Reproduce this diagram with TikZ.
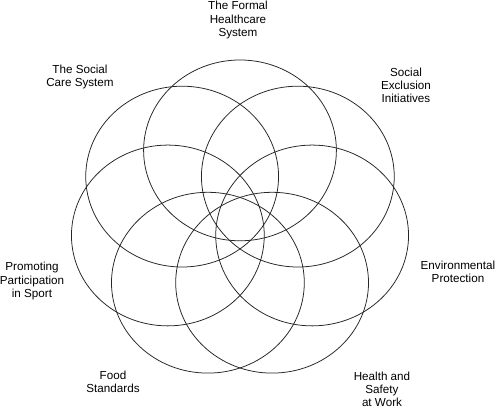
\documentclass[tikz,border=0pt]{standalone}
\usepackage{fontspec}
\setmainfont{Liberation Sans}
\begin{document}
\begin{tikzpicture}[label/.style={align=center, font=\fontsize{8.3}{9.3}\selectfont, inner sep=0pt},
    ring/.style={line width=0.55pt, black!85}]
    \useasboundingbox (-6,-4.725) rectangle (6.4,5.5);
    % seven overlapping rings
    \foreach \k in {0,...,6}
        \draw[ring] ({90+\k*360/7}:1.85 and 1.74) ellipse (2.41 and 2.26);

    % labels around the flower
    \node[label] (formal) at (-0.05, 5.0) {The Formal\\Healthcare\\System};
    \node[label] (social) at (-4.0, 3.575) {The Social\\Care System};
    \node[label] (exclusion) at (4.15, 3.375) {Social\\Exclusion\\Initiatives};
    \node[label] (sport) at (-5.2, -1.525) {Promoting\\Participation\\in Sport};
    \node[label] (environment) at (5.45, -1.3) {Environmental\\Protection};
    \node[label] (food) at (-3.175, -4.05) {Food\\Standards};
    \node[label] (safety) at (3.55, -4.24) {Health and\\Safety\\at Work};
\end{tikzpicture}
\end{document}
